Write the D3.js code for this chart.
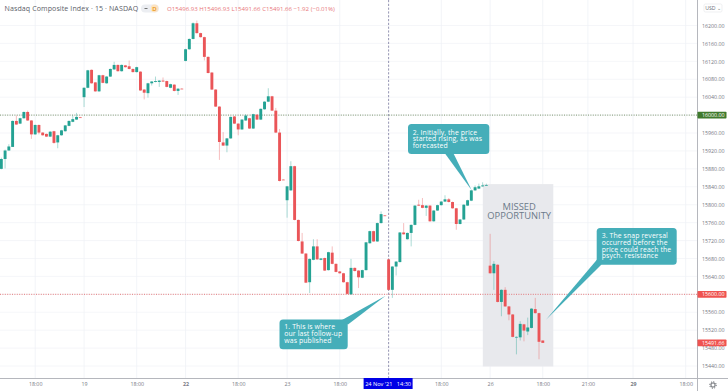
<!DOCTYPE html>
<html><head><meta charset="utf-8">
<script src="https://cdn.jsdelivr.net/npm/d3@7"></script>
<style>
html,body{margin:0;padding:0;background:#fff;overflow:hidden}
svg{display:block}
text{font-family:"Open Sans",sans-serif}
.domain{display:none}
</style></head><body><svg id="c" width="728" height="391"></svg>
<script>
const opens=[15880,15902,15921,15929,15987,15981,15993,16007,15988,15957,15978,15961,15958,15952,15964,15939,15955,15964,15976,15985,15990,15995,16040,16061,16101,16073,16053,16089,16071,16086,16102,16112,16098,16111,16109,16103,16096,16097,16057,16049,16071,16074,16074,16077,16076,16061,16068,16054,16059,16121,16147,16170,16205,16183,16174,16130,16095,16057,16019,15939,15932,15948,15997,15981,15968,15988,15993,15970,16001,15990,16013,16030,16042,16010,15961,15856,15810,15832,15886,15766,15718,15691,15627,15677,15707,15677,15681,15654,15693,15668,15651,15647,15627,15600,15659,15653,15637,15654,15714,15741,15718,15759,15776,15678,15610,15662,15672,15738,15723,15737,15755,15800,15799,15793,15798,15763,15787,15799,15807,15812,15806,15792,15757,15767,15798,15809,15832,15836,15841,15843,15664,15647,15666,15583,15610,15573,15555,15504,15504,15533,15517,15525,15567,15558,15496.93];
const highs=[15905,15923,15935,15988,15999,15994,16008,16010,15989,15979,15979,15962,15959,15964,15965,15956,15967,15978,15988,15999,16005,15996,16062,16101,16102,16074,16090,16090,16087,16104,16119,16113,16113,16112,16122,16104,16108,16098,16058,16072,16076,16086,16078,16084,16077,16070,16069,16060,16060,16148,16171,16207,16211,16184,16175,16131,16096,16058,16020,15962,15949,15997,15998,15982,15991,16002,15994,16003,16002,16015,16031,16060,16043,16016,15969,15857,15842,15897,15887,15767,15737,15692,15680,15723,15723,15681,15682,15695,15707,15669,15652,15648,15628,15679,15660,15654,15655,15717,15742,15742,15760,15785,15777,15679,15663,15674,15739,15759,15738,15756,15799,15811,15815,15799,15799,15788,15800,15808,15821,15815,15807,15793,15768,15801,15811,15833,15843,15847,15850,15847,15735,15674,15667,15611,15616,15574,15556,15506,15540,15534,15548,15569,15592,15559,15496.93];
const lows=[15879,15881,15921,15929,15978,15980,15992,15987,15947,15956,15957,15954,15951,15951,15936,15926,15954,15963,15975,15984,15989,15994,16018,16060,16070,16052,16052,16071,16070,16085,16101,16097,16097,16106,16102,16095,16095,16054,16035,16039,16066,16073,16063,16074,16062,16060,16053,16045,16058,16120,16146,16169,16182,16173,16122,16093,16056,16018,15900,15931,15917,15947,15980,15955,15967,15987,15969,15969,15989,15989,16012,16029,16009,15960,15852,15855,15771,15831,15765,15718,15690,15625,15603,15676,15677,15676,15652,15653,15667,15649,15646,15626,15600,15599,15651,15614,15636,15653,15713,15717,15717,15758,15775,15609,15592,15642,15671,15733,15722,15707,15754,15797,15792,15775,15762,15762,15786,15798,15806,15805,15791,15744,15756,15766,15797,15808,15831,15835,15840,15842,15646,15610,15582,15551,15572,15542,15504,15466,15497,15495,15509,15524,15557,15455,15491.66];
const closes=[15902,15921,15930,15987,15979,15993,16007,15988,15957,15978,15961,15955,15952,15963,15938,15955,15966,15977,15987,15991,15996,15994,16061,16100,16071,16053,16089,16072,16086,16103,16112,16098,16112,16107,16103,16096,16107,16055,16050,16071,16075,16076,16077,16075,16063,16069,16054,16059,16058,16147,16170,16205,16183,16174,16130,16094,16057,16019,15940,15932,15948,15996,15981,15968,15990,15999,15970,16002,15990,16014,16030,16042,16010,15961,15853,15855,15841,15886,15766,15719,15691,15626,15679,15707,15678,15680,15653,15694,15668,15650,15647,15627,15601,15659,15652,15638,15654,15716,15741,15718,15759,15779,15775,15610,15662,15673,15738,15734,15737,15755,15798,15798,15793,15798,15763,15787,15799,15807,15812,15806,15792,15757,15767,15800,15810,15832,15839,15841,15843,15844,15647,15668,15583,15610,15573,15555,15505,15505,15534,15519,15526,15568,15558,15494,15491.66];
const priceTicks=[15440,15480,15520,15560,15640,15680,15720,15760,15800,15840,15880,15920,15960,16040,16080,16120,16160,16200];
const gridPrices=[15440,15480,15520,15560,15600,15640,15680,15720,15760,15800,15840,15880,15920,15960,16000,16040,16080,16120,16160,16200];
const timeTickIdx=[9,22,36,49,63,76,90,117,130,144,156,168,182];
const timeTickLabels=["18:00","19","18:00","22","18:00","23","18:00","18:00","26","18:00","21:00","29","18:00"];
const boldTimeLabels=["22","29"];
const hLevels=[16000,15600];
const hLevelColors=["#5a7d4a","#e0575a"];
const crossIdx=103;
const crossLabel="24 Nov '21   14:30";
const lastPrice=15491.66;
const headerTitle="Nasdaq Composite Index · 15 · NASDAQ";
const headerOhlc="O15496.93 H15496.93 L15491.66 C15491.66 −1.92 (−0.01%)";
const note1=["1. This is where","our last follow-up","was published"];
const note2=["2. Initially, the price","started rising, as was","forecasted"];
const note3=["3. The snap reversal","occurred before the","price could reach the","psych. resistance"];
const zoneLabel=["MISSED","OPPORTUNITY"];

const W=728,H=391,axisX=697.5,axisY=378.5;
const svg=d3.select("#c");
const x=d3.scaleLinear().domain([0,182]).range([1.33,685.65]);
const y=d3.scaleLinear().domain([15440,16200]).range([366,25.5]);
const GREEN="#24a293",RED="#ea5558",TEAL="#45aeb9";

svg.append("g").selectAll("line").data(gridPrices).join("line")
 .attr("x1",0).attr("x2",axisX).attr("y1",d=>y(d)).attr("y2",d=>y(d)).attr("stroke","#f2f4f8").attr("stroke-width",.8);
svg.append("g").selectAll("line").data(timeTickIdx).join("line")
 .attr("y1",0).attr("y2",axisY).attr("x1",d=>x(d)).attr("x2",d=>x(d)).attr("stroke","#eff1f6").attr("stroke-width",.8);

// shaded zone
const zone=svg.append("g");
zone.append("rect").attr("x",x(128.05)).attr("y",y(15846)).attr("width",x(146.8)-x(128.05)).attr("height",y(15439)-y(15846)).attr("fill","#e8e9ed");
zone.selectAll("text").data(zoneLabel).join("text").attr("x",519.2).attr("y",(d,i)=>209.6+i*9.7)
 .attr("text-anchor","middle").attr("font-size",9.4).attr("font-weight",500).attr("fill","#6c7a89").text(d=>d);

// level lines
svg.append("g").selectAll("line").data(hLevels).join("line")
 .attr("x1",0).attr("x2",axisX).attr("y1",d=>y(d)).attr("y2",d=>y(d))
 .attr("stroke",(d,i)=>hLevelColors[i]).attr("stroke-width",.8).attr("stroke-dasharray","1 1.4");

// crosshair
svg.append("line").attr("x1",x(crossIdx)).attr("x2",x(crossIdx)).attr("y1",0).attr("y2",axisY)
 .attr("stroke","#7a7a9e").attr("stroke-width",.8).attr("stroke-dasharray","2.2 1.6");

// candles
const idx=d3.range(opens.length);
const bw=2.9;
const col=i=>closes[i]>=opens[i]?GREEN:RED;
svg.append("g").selectAll("line").data(idx).join("line")
 .attr("x1",i=>x(i)).attr("x2",i=>x(i)).attr("y1",i=>y(highs[i])).attr("y2",i=>y(lows[i]))
 .attr("stroke",col).attr("stroke-width",.55).attr("stroke-opacity",.7);
svg.append("g").selectAll("rect").data(idx).join("rect")
 .attr("x",i=>x(i)-bw/2).attr("width",bw)
 .attr("y",i=>y(Math.max(opens[i],closes[i])))
 .attr("height",i=>Math.max(.7,Math.abs(y(opens[i])-y(closes[i]))))
 .attr("fill",col);

// callouts
function callout(box,tri,lines,tx,ty0,lh){
 const g=svg.append("g");
 g.append("rect").attr("x",box[0]).attr("y",box[1]).attr("width",box[2]-box[0]).attr("height",box[3]-box[1]).attr("rx",3.5).attr("fill",TEAL);
 g.append("path").attr("d",d3.line()(tri)+"Z").attr("fill",TEAL);
 g.selectAll("text").data(lines).join("text").attr("x",tx).attr("y",(d,i)=>ty0+i*lh)
  .attr("font-size",6.9).attr("font-weight",500).attr("letter-spacing",.1).attr("fill","#fff").text(d=>d);
}
const tip1=[x(crossIdx)-3,y(15597)],tip2=[x(125.1),y(15832)],tip3=[546,y(15543)];
callout([279.5,319.5,347.7,349.3],[[342,320],[348,324.5],tip1],note1,284.3,329.4,6.8);
callout([408,124,489.3,154],[[445,153.5],[453.5,153.5],tip2],note2,412.7,134.7,6.7);
callout([596.7,228,676.7,264.7],[[597.5,259],[601.5,264.5],tip3],note3,601.7,238.1,6.7);

// axes
svg.append("rect").attr("x",axisX).attr("y",0).attr("width",W-axisX).attr("height",H).attr("fill","#fff");
svg.append("rect").attr("x",0).attr("y",axisY).attr("width",W).attr("height",H-axisY).attr("fill","#fff");
const ay=svg.append("g").attr("transform",`translate(${axisX},0)`)
 .call(d3.axisRight(y).tickValues(priceTicks).tickSize(0).tickPadding(4.5).tickFormat(d3.format(".2f")));
ay.selectAll("text").attr("font-size",5.3).attr("fill","#777a84").attr("font-family",'"Open Sans"');
const ax=svg.append("g").attr("transform",`translate(0,${axisY})`)
 .call(d3.axisBottom(x).tickValues(timeTickIdx).tickSize(0).tickPadding(3.5).tickFormat((d,i)=>timeTickLabels[i]));
ax.selectAll("text").attr("font-size",5.3).attr("fill","#777a84").attr("font-family",'"Open Sans"')
 .attr("font-weight",(d,i)=>boldTimeLabels.includes(timeTickLabels[i])?700:400);
svg.append("line").attr("x1",0).attr("x2",W).attr("y1",axisY).attr("y2",axisY).attr("stroke","#b5b7bd").attr("stroke-width",1);
svg.append("line").attr("x1",axisX).attr("x2",axisX).attr("y1",0).attr("y2",H).attr("stroke","#b5b7bd").attr("stroke-width",1);

// price badges
function badge(p,c,t){
 svg.append("rect").attr("x",axisX).attr("y",y(p)-3.3).attr("width",29).attr("height",6.8).attr("rx",.8).attr("fill",c);
 svg.append("text").attr("x",702).attr("y",y(p)+1.9).attr("font-size",5.3).attr("fill","#fff").text(t);
}
badge(16000,"#3f7a2c",d3.format(".2f")(16000));
badge(15600,"#ef5350",d3.format(".2f")(15600));
badge(lastPrice,"#ef5350",d3.format(".2f")(lastPrice));

// crosshair time label
svg.append("rect").attr("x",x(crossIdx)-25).attr("y",378).attr("width",49).attr("height",11).attr("fill","#0000e6");
svg.append("text").attr("x",x(crossIdx)-0.5).attr("y",386).attr("text-anchor","middle").attr("font-size",5.6).attr("fill","#fff").attr("xml:space","preserve").text(crossLabel);

// header
svg.append("text").attr("x",4.5).attr("y",11.3).attr("font-size",7.05).attr("letter-spacing",.1).attr("fill","#5b5e68").text(headerTitle);
svg.append("rect").attr("x",141).attr("y",4.5).attr("width",18).attr("height",8).attr("rx",4).attr("fill","#eceef2");
svg.append("rect").attr("x",144.5).attr("y",8).attr("width",3).attr("height",.9).attr("fill","#666");
svg.append("circle").attr("cx",154.5).attr("cy",8.4).attr("r",3.8).attr("fill","#fde3c0");
svg.append("text").attr("x",154.5).attr("y",10.6).attr("text-anchor","middle").attr("font-size",6).attr("font-weight",600).attr("fill","#e8930c").text("D");
svg.append("text").attr("x",167).attr("y",10.8).attr("font-size",6.1).attr("fill","#e8767a").text(headerOhlc);

// USD pill & gear
svg.append("rect").attr("x",704).attr("y",4).attr("width",18).attr("height",8).attr("rx",1.5).attr("fill","#fff").attr("stroke","#e4e5ea").attr("stroke-width",.6);
svg.append("text").attr("x",713).attr("y",10).attr("text-anchor","middle").attr("font-size",5.2).attr("fill","#6a6d78").text("USD ⌄");
svg.append("circle").attr("cx",713).attr("cy",385).attr("r",2.1).attr("fill","none").attr("stroke","#55585f").attr("stroke-width",.9);
svg.append("circle").attr("cx",713).attr("cy",385).attr("r",3.2).attr("fill","none").attr("stroke","#55585f").attr("stroke-width",1).attr("stroke-dasharray","1.2 1.3");
</script></body></html>
